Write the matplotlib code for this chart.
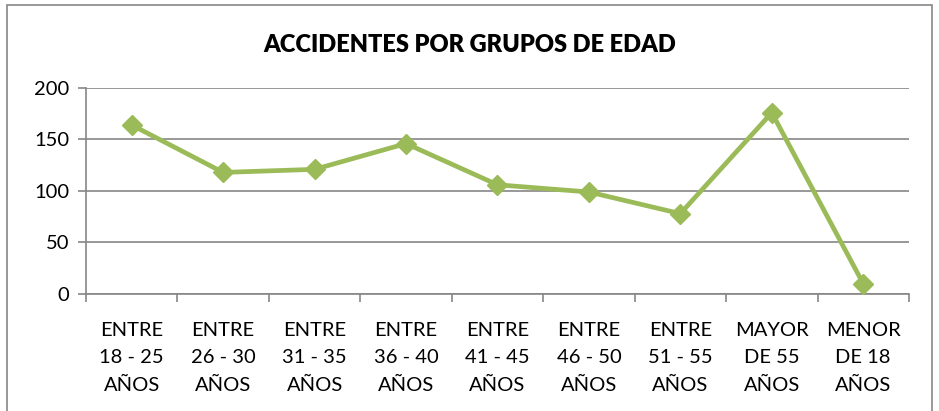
import matplotlib
matplotlib.use("Agg")
import matplotlib.pyplot as plt
from matplotlib.patches import Rectangle
import numpy as np

plt.rcParams['font.family'] = ['Lato', 'DejaVu Sans']

grupos = ["ENTRE\n18 - 25\nAÑOS", "ENTRE\n26 - 30\nAÑOS", "ENTRE\n31 - 35\nAÑOS",
          "ENTRE\n36 - 40\nAÑOS", "ENTRE\n41 - 45\nAÑOS", "ENTRE\n46 - 50\nAÑOS",
          "ENTRE\n51 - 55\nAÑOS", "MAYOR\nDE 55\nAÑOS", "MENOR\nDE 18\nAÑOS"]
accidentes = [164, 118, 121, 146, 106, 99, 78, 176, 10]
yticks = [0, 50, 100, 150, 200]

verde = "#9BBB59"
gris = "#868686"

fig = plt.figure(figsize=(9.39, 4.11), dpi=100)
ax = fig.add_axes([0.0916, 0.2847, 0.968 - 0.0916, 0.786 - 0.2847])

x = np.arange(len(grupos))
ax.plot(x, accidentes, color=verde, linewidth=3.4, marker='D', markersize=10,
        markeredgecolor=verde, markerfacecolor=verde, zorder=3)

ax.set_xlim(-0.5, len(grupos) - 0.5)
ax.set_ylim(0, 200)
ax.set_yticks(yticks)
ax.set_yticklabels([str(v) for v in yticks], fontsize=14.5)
ax.yaxis.grid(True, color=gris, linewidth=1.2)
ax.set_axisbelow(True)

ax.set_xticks(np.arange(-0.5, len(grupos)), labels=[''] * (len(grupos) + 1))
ax.set_xticks(x, labels=grupos, minor=True)
ax.tick_params(axis='x', which='minor', length=0, pad=20, labelsize=14.5)
ax.tick_params(axis='x', which='major', length=6, color=gris, width=1.2)
ax.tick_params(axis='y', length=6, color=gris, width=1.2, pad=6)
for lbl in ax.get_xticklabels(minor=True):
    lbl.set_linespacing(1.75)

for s in ['top', 'right']:
    ax.spines[s].set_visible(False)
for s in ['left', 'bottom']:
    ax.spines[s].set_color(gris)
    ax.spines[s].set_linewidth(1.2)

fig.text(0.5, 0.89, "ACCIDENTES POR GRUPOS DE EDAD", ha='center', va='center',
         fontsize=17, fontweight='heavy')

fig.patches.append(Rectangle((7 / 939, -0.1), 925 / 939, 1.1 - 5 / 411,
                             transform=fig.transFigure, fill=False,
                             edgecolor=gris, linewidth=1.2))

fig.savefig("out.png", dpi=100)
